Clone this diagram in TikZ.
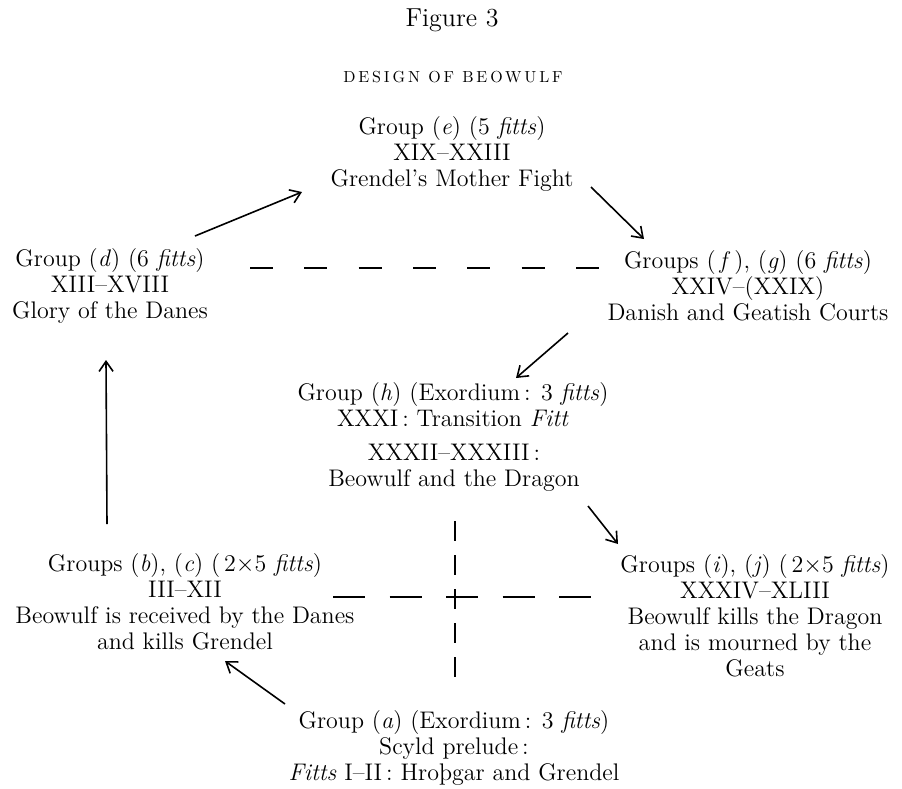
\documentclass[tikz,border=0pt]{standalone}
\usepackage{fontspec}
\usetikzlibrary{calc,arrows.meta}
\newfontfamily\spacedcaps[LetterSpace=18]{lmroman10-regular.otf}

\begin{document}
\begin{tikzpicture}[x=.5pt,y=-.5pt,
      every node/.style={font=\fontsize{12}{13}\selectfont,inner sep=0pt,align=center},
      link/.style={line width=.8pt,-{Straight Barb[length=5pt,width=7pt]}},
      gapline/.style={line width=.7pt}]
    \useasboundingbox (0,0) rectangle (902,789);

    % heading
    \node (title) at (452,20) {\fontsize{13}{15}\selectfont Figure 3};
    \node (subtitle) at (453,77) {\fontsize{8}{10}\spacedcaps DESIGN OF BEOWULF};

    % groups
    \node (grpE) at (452,154) {Group (\textit{e}) (5 \textit{fitts})\\XIX--XXIII\\Grendel's Mother Fight};
    \node (grpD) at (110,286) {Group (\textit{d}) (6 \textit{fitts})\\XIII--XVIII\\Glory of the Danes};
    \node (grpFG) at (748,286) {Groups (\,\textit{f}\,), (\textit{g}) (6 \textit{fitts})\\XXIV--(XXIX)\\Danish and Geatish Courts};
    \node (grpH) at (453,405) {Group (\textit{h}) (Exordium\,: 3 \textit{fitts})\\XXXI\,: Transition \textit{Fitt}};
    \node (dragon) at (454,468) {XXXII--XXXIII\,:\\Beowulf and the Dragon};
    \node (grpBC) at (185,602) {Groups (\textit{b}), (\textit{c}) (\,2$\times$5\ \textit{fitts})\\III--XII\\Beowulf is received by the Danes\\and kills Grendel};
    \node (grpIJ) at (755,616) {Groups (\textit{i}), (\textit{j}) (\,2$\times$5\ \textit{fitts})\\XXXIV--XLIII\\Beowulf kills the Dragon\\and is mourned by the\\Geats};
    \node (grpA) at (454,748) {Group (\textit{a}) (Exordium\,: 3 \textit{fitts})\\Scyld prelude\,:\\\textit{Fitts} I--II\,: Hroþgar and Grendel};

    % arrows
    \draw[link] ($(grpBC)+(-78,-78)$) -- ($(grpD)+(-4,74)$);
    \draw[link] ($(grpD)+(85,-50)$) -- ($(grpE)+(-150,38)$);
    \draw[link] ($(grpE)+(139,33)$) -- ($(grpFG)+(-104,-47)$);
    \draw[link] ($(grpFG)+(-180,47)$) -- ($(grpH)+(63,-27)$);
    \draw[link] ($(dragon)+(134,38)$) -- ($(grpIJ)+(-137,-72)$);
    \draw[link] ($(grpA)+(-169,-44)$) -- ($(grpBC)+(40,59)$);

    % dashed lines
    \draw[gapline,dash pattern=on 11.5pt off 15.67pt] ($(grpD)+(140,-18)$) -- ($(grpFG)+(-149,-18)$);
    \coordinate (cross) at (455,597);
    \draw[gapline,dash pattern=on 16pt off 12.25pt] ($(cross)+(-122,0)$) -- ($(cross)+(136,0)$);
    \draw[gapline,dash pattern=on 10pt off 7pt] ($(cross)+(0,-76)$) -- ($(cross)+(0,92)$);
  \end{tikzpicture}
\end{document}
